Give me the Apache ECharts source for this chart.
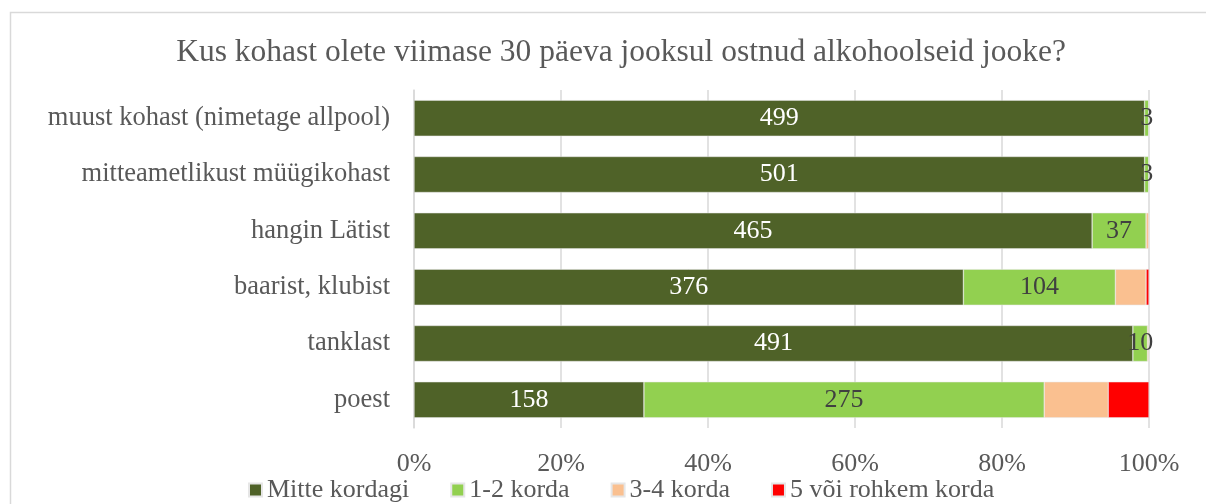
<!DOCTYPE html>
<html>
<head>
<meta charset="utf-8">
<script src="https://cdn.jsdelivr.net/npm/echarts@6/dist/echarts.min.js"></script>
<style>
  html, body { margin: 0; padding: 0; background: #fff; }
  #chart { width: 1206px; height: 504px; }
</style>
</head>
<body>
<div id="chart"></div>
<script>
// andmed (alt üles)
var categories = ['poest', 'tanklast', 'baarist, klubist', 'hangin Lätist', 'mitteametlikust müügikohast', 'muust kohast (nimetage allpool)'];
var seriesNames = ['Mitte kordagi', '1-2 korda', '3-4 korda', '5 või rohkem korda'];
var mitteKordagi = [158, 491, 376, 465, 501, 499];
var korda12 = [275, 10, 104, 37, 3, 3];
var korda34 = [44, 1, 21, 2, 0, 0];
var korda5 = [28, 0, 2, 0, 0, 0];
var colors = ['#4f6228', '#92d050', '#fac090', '#ff0000'];
var tickLabels = ['0%', '20%', '40%', '60%', '80%', '100%'];

var font = 'Liberation Serif';
var raw = [mitteKordagi, korda12, korda34, korda5];

// protsendid iga rea kohta
var totals = categories.map(function (c, i) {
    return raw[0][i] + raw[1][i] + raw[2][i] + raw[3][i];
});

var series = raw.map(function (arr, s) {
    return {
        name: seriesNames[s],
        type: 'bar',
        stack: 'kokku',
        barCategoryGap: '36%',
        itemStyle: { color: colors[s], borderColor: '#e6e6e6', borderWidth: 0.5 },
        label: {
            show: s < 2,
            position: 'inside',
            fontFamily: font,
            fontSize: 26,
            color: s === 0 ? '#ffffff' : '#404040',
            formatter: function (p) { return arr[p.dataIndex]; }
        },
        data: arr.map(function (v, i) { return v / totals[i] * 100; })
    };
});

var chart = echarts.init(document.getElementById('chart'));
chart.setOption({
    animation: false,
    color: colors,
    graphic: [{
        type: 'rect',
        shape: { x: 10.5, y: 12.5, width: 1400, height: 600 },
        style: { fill: 'none', stroke: '#d9d9d9', lineWidth: 1.5 },
        silent: true
    }],
    title: {
        text: 'Kus kohast olete viimase 30 päeva jooksul ostnud alkohoolseid jooke?',
        left: 616,
        textAlign: 'center',
        top: 32,
        textStyle: { fontFamily: font, fontSize: 31.5, fontWeight: 'normal', color: '#595959' }
    },
    legend: {
        data: seriesNames,
        bottom: -4,
        left: 243,
        icon: 'rect',
        itemWidth: 13,
        itemHeight: 13,
        itemGap: 41,
        textStyle: { fontFamily: font, fontSize: 26, color: '#595959' }
    },
    grid: { left: 414, right: 57, top: 90, bottom: 76, containLabel: false },
    xAxis: {
        type: 'value',
        min: 0,
        max: 100,
        interval: 20,
        axisLine: { show: false },
        axisTick: { show: false },
        splitLine: { lineStyle: { color: '#d9d9d9', width: 1.5 } },
        axisLabel: {
            fontFamily: font, fontSize: 26, color: '#595959', margin: 23,
            formatter: function (v) { return tickLabels[v / 20]; }
        }
    },
    yAxis: {
        type: 'category',
        data: categories,
        axisLine: { show: true, lineStyle: { color: '#d9d9d9', width: 1.5 } },
        axisTick: { show: false },
        axisLabel: { fontFamily: font, fontSize: 26.5, color: '#595959', margin: 24 }
    },
    series: series
});
</script>
</body>
</html>
